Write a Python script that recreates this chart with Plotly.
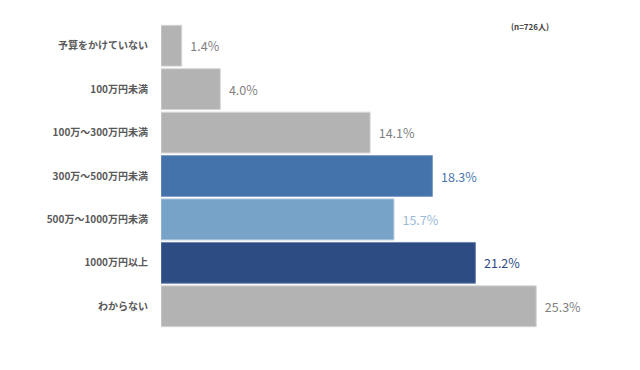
import plotly.graph_objects as go

categories = ["予算をかけていない", "100万円未満", "100万～300万円未満", "300万～500万円未満",
              "500万～1000万円未満", "1000万円以上", "わからない"]
values = [1.4, 4.0, 14.1, 18.3, 15.7, 21.2, 25.3]
bar_colors = ["#b3b3b3", "#b3b3b3", "#b3b3b3", "#4472aa", "#77a3c8", "#2e4c84", "#b3b3b3"]
line_colors = ["#d6d6d6", "#d6d6d6", "#d6d6d6", "#7f9ec6", "#a6c2dc", "#6f86ad", "#d6d6d6"]
label_colors = ["#7f7f7f", "#7f7f7f", "#7f7f7f", "#4a76ad", "#9bbad7", "#2e4c84", "#7f7f7f"]
note = "(n=726人)"

# page body has an 8px default margin, so the figure is drawn 8px right/down
W, H = 632, 362
L, R, T, B = 153, 40, 16, 42

fig = go.Figure(go.Bar(
    y=categories, x=values, orientation="h",
    marker=dict(color=bar_colors, line=dict(color=line_colors, width=1)),
    text=[f"  {v:.1f}%" for v in values],
    textposition="outside",
    textfont=dict(color=label_colors, size=12.5, family="Noto Sans CJK JP"),
    cliponaxis=False,
))

fig.update_layout(
    width=W, height=H,
    margin=dict(l=L, r=R, t=T, b=B, autoexpand=False),
    plot_bgcolor="white", paper_bgcolor="white",
    bargap=0.06,
    showlegend=False,
    xaxis=dict(range=[0, 29.6], visible=False, fixedrange=True, automargin=False),
    yaxis=dict(autorange="reversed", showline=False, showgrid=False, ticks="",
               automargin=False, ticklabelstandoff=12,
               tickfont=dict(size=10, color="#595959", family="Noto Sans CJK JP", weight="bold")),
    annotations=[dict(text=note, x=(522 - L) / (W - L - R), y=(H - B - 19) / (H - T - B),
                      xref="paper", yref="paper", xanchor="center", yanchor="middle",
                      showarrow=False,
                      font=dict(size=8, color="#404040", family="Noto Sans CJK JP", weight="bold"))],
)

fig.write_html("out.html")
